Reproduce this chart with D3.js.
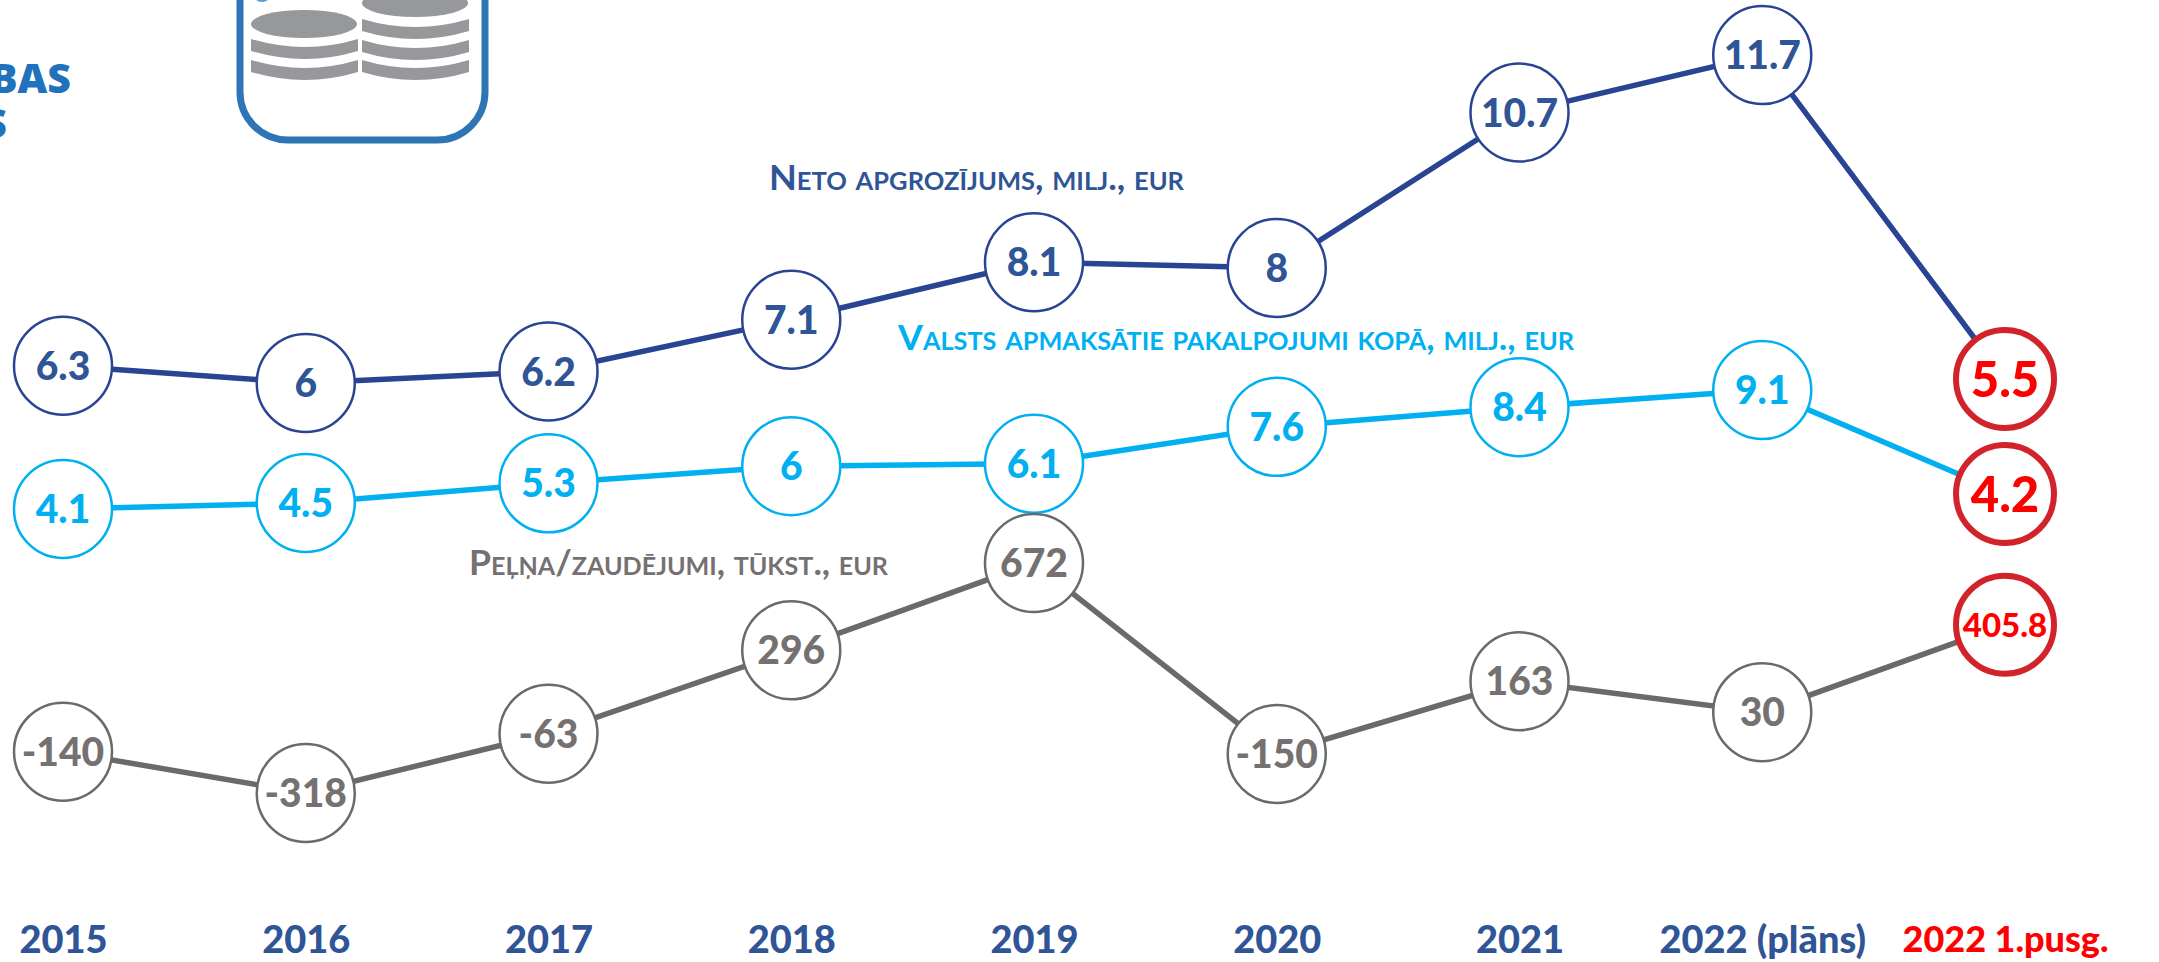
<!DOCTYPE html>
<html>
<head>
<meta charset="utf-8">
<script src="https://cdn.jsdelivr.net/npm/d3@7"></script>
<style>
  html, body { margin: 0; padding: 0; background: #fff; }
  svg { display: block; }
  text { font-family: Lato, "Open Sans", sans-serif; font-weight: 900; }
  .series-label { font-variant: small-caps; font-weight: 700; }
</style>
</head>
<body>
<svg id="chart" width="2159" height="962"></svg>
<script>
const years = ['2015', '2016', '2017', '2018', '2019', '2020', '2021', '2022 (plāns)', '2022 1.pusg.'];
const netTurnover = [6.3, 6, 6.2, 7.1, 8.1, 8, 10.7, 11.7, 5.5];
const statePaid = [4.1, 4.5, 5.3, 6, 6.1, 7.6, 8.4, 9.1, 4.2];
const profitLoss = [-140, -318, -63, 296, 672, -150, 163, 30, 405.8];

const svg = d3.select('#chart');
const navy = '#2a4494', navyText = '#2f5597', sky = '#00b0f0', grey = '#6a6a6a', greyText = '#767171';
const red = '#d2232a', redText = '#ff0000';

const x = d3.scalePoint().domain(years).range([63, 2005]);

// each series sits on its own scale, the picture has no shared y axis
const series = [
  {
    name: 'Neto apgrozījums, milj., eur', values: netTurnover,
    y: d3.scaleLinear().domain([5.5, 6, 11.7]).range([379, 383, 55]),
    line: navy, text: navyText, labelX: 769, labelY: 190, labelW: 415
  },
  {
    name: 'Valsts apmaksātie pakalpojumi kopā, milj., eur', values: statePaid,
    y: d3.scaleLinear().domain([4.1, 4.2, 4.5, 9.1]).range([509, 494, 503, 390]),
    line: sky, text: sky, labelX: 898, labelY: 350, labelW: 676
  },
  {
    name: 'Peļņa/zaudējumi, tūkst., eur', values: profitLoss,
    y: d3.scaleLinear().domain([-318, 672]).range([793, 563]),
    line: grey, text: greyText, labelX: 469, labelY: 575, labelW: 419
  }
];

// the cropped logo and heading at the top left
const icon = svg.append('g');
icon.append('rect')
  .attr('x', 240).attr('y', -80)
  .attr('width', 245).attr('height', 220)
  .attr('rx', 48)
  .attr('fill', 'none').attr('stroke', '#2e75b6').attr('stroke-width', 7);
icon.append('ellipse')
  .attr('cx', 304).attr('cy', 24).attr('rx', 53).attr('ry', 14)
  .attr('fill', '#97989b');
icon.append('ellipse')
  .attr('cx', 415).attr('cy', 3).attr('rx', 53).attr('ry', 14)
  .attr('fill', '#97989b');
icon.append('ellipse')
  .attr('cx', 262).attr('cy', -1).attr('rx', 6).attr('ry', 3)
  .attr('fill', '#5b9bd5');
[[251, 39], [251, 60], [362, 19], [362, 40], [362, 60]].forEach(function (b) {
  const x0 = b[0], x1 = b[0] + 107, xc = b[0] + 53.5, t = b[1];
  icon.append('path')
    .attr('d', `M${x0},${t} Q${xc},${t + 16} ${x1},${t} L${x1},${t + 12} Q${xc},${t + 28} ${x0},${t + 12} Z`)
    .attr('fill', '#97989b');
});
svg.append('text').attr('x', 71).attr('y', 93)
  .attr('text-anchor', 'end')
  .style('font-family', '"Open Sans"').style('font-weight', 800).style('font-size', '41px')
  .attr('fill', '#1f72bb').text('BAS');
svg.append('text').attr('x', 7).attr('y', 138)
  .attr('text-anchor', 'end')
  .style('font-family', '"Open Sans"').style('font-weight', 800).style('font-size', '41px')
  .attr('fill', '#1f72bb').text('S');

// year labels
const axis = svg.append('g')
  .attr('transform', 'translate(0, 926)')
  .call(d3.axisBottom(x).tickSize(0).tickPadding(0));
axis.select('.domain').remove();
axis.selectAll('text')
  .style('font-size', d => d === '2022 1.pusg.' ? '36px' : '38px')
  .attr('fill', d => d === '2022 1.pusg.' ? redText : navyText);

series.forEach(function (s) {
  const line = d3.line()
    .x((d, i) => x(years[i]))
    .y(d => s.y(d));

  svg.append('path')
    .datum(s.values)
    .attr('fill', 'none')
    .attr('stroke', s.line)
    .attr('stroke-width', 5.5)
    .attr('d', line);

  const nodes = svg.append('g')
    .selectAll('g')
    .data(s.values)
    .enter().append('g')
    .attr('transform', (d, i) => `translate(${x(years[i])}, ${s.y(d)})`);

  const isLast = (i) => i === years.length - 1;

  nodes.append('circle')
    .attr('r', 49)
    .attr('fill', '#fff')
    .attr('stroke', (d, i) => isLast(i) ? red : s.line)
    .attr('stroke-width', (d, i) => isLast(i) ? 6 : 2.5);

  nodes.append('text')
    .attr('text-anchor', 'middle')
    .attr('dy', '0.36em')
    .style('font-size', (d, i) => isLast(i) ? (String(d).length > 3 ? '33px' : '49px') : '39px')
    .attr('fill', (d, i) => isLast(i) ? redText : s.text)
    .text(d => d);

  svg.append('text')
    .attr('class', 'series-label')
    .attr('x', s.labelX)
    .attr('y', s.labelY)
    .attr('textLength', s.labelW)
    .attr('lengthAdjust', 'spacingAndGlyphs')
    .style('font-size', '34px')
    .attr('fill', s.text)
    .text(s.name);
});
</script>
</body>
</html>
